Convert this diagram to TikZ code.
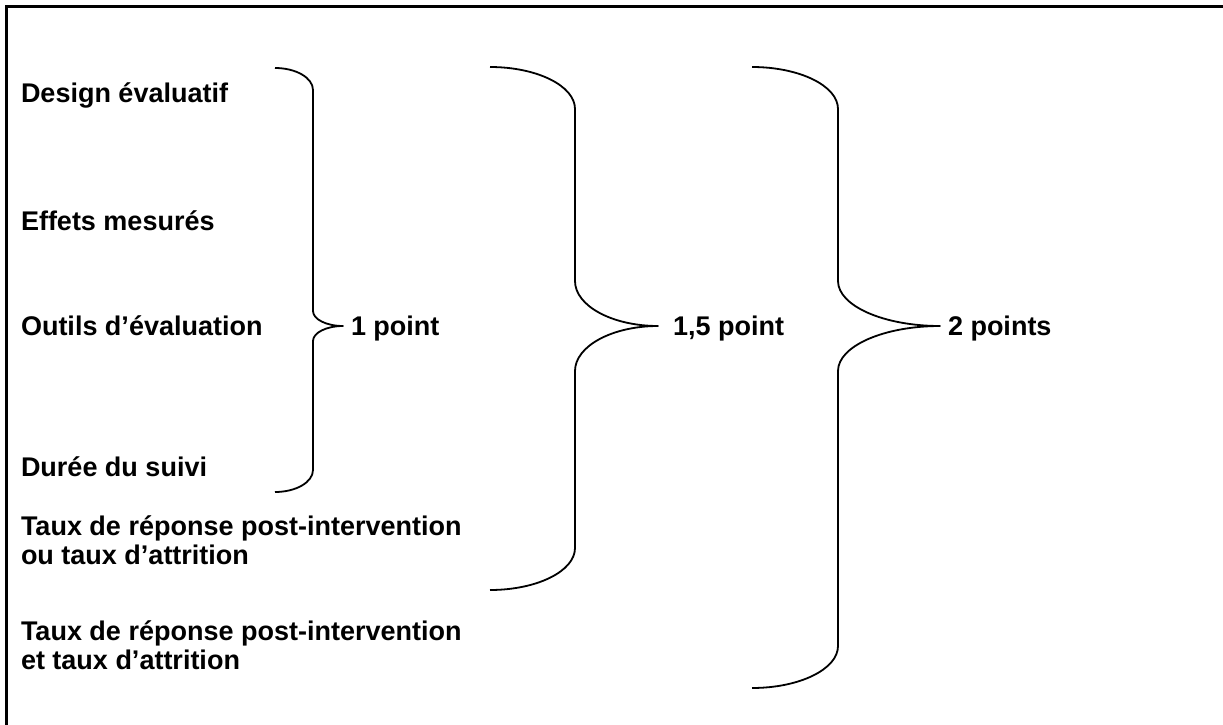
\documentclass[tikz,border=0pt]{standalone}
\usepackage{fontspec}
\setmainfont{Liberation Sans}
\begin{document}
\begin{tikzpicture}[x=1pt,y=-1pt,
  label/.style={anchor=base west,inner sep=0pt,outer sep=0pt,align=left,
    font=\fontsize{27}{28.5}\selectfont\bfseries},
  brace/.style={line width=1.8pt,line join=round},
  frame/.style={line width=3pt}]
\useasboundingbox (0,0) rectangle (1223,725);

% outer frame (top and left edges)
\draw[frame] (6,725) -- (6,7) -- (1223,7);

% criteria (two-line labels sit on the baseline of their last line)
\node[label] (design) at (21,102) {Design évaluatif};
\node[label] (effets) at (21,230) {Effets mesurés};
\node[label] (outils) at (21,335) {Outils d’évaluation};
\node[label] (duree)  at (21,476) {Durée du suivi};
\node[label] (tauxou) at (21,564) {Taux de réponse post-intervention\\ou taux d’attrition};
\node[label] (tauxet) at (21,669) {Taux de réponse post-intervention\\et taux d’attrition};

% scores
\node[label] (p1)  at (351,335) {1 point};
\node[label] (p15) at (673,335) {1,5 point};
\node[label] (p2)  at (948,335) {2 points};

% curly brace: #1 end x, #2 spine x, #3 tip x, #4 top y, #5 tip y, #6 bottom y,
% #7 end-corner height, #8 tip-curve height
\newcommand\curlybrace[8]{%
  \draw[brace]
    (#1,#4) .. controls ({#1+0.552*(#2-#1)},#4) and (#2,{#4+#7-0.552*#7}) .. (#2,{#4+#7})
    -- (#2,{#5-#8})
    .. controls (#2,{#5-#8+0.552*#8}) and ({#3-0.552*(#3-#2)},#5) .. (#3,#5)
    .. controls ({#3-0.552*(#3-#2)},#5) and (#2,{#5+#8-0.552*#8}) .. (#2,{#5+#8})
    -- (#2,{#6-#7})
    .. controls (#2,{#6-#7+0.552*#7}) and ({#1+0.552*(#2-#1)},#6) .. (#1,#6);}

\curlybrace{275}{313}{343}{68}{326}{492}{22}{15}
\curlybrace{490}{575}{658}{67}{326}{590}{42}{45}
\curlybrace{752}{838}{940}{67}{326}{688}{42}{45}
\end{tikzpicture}
\end{document}
